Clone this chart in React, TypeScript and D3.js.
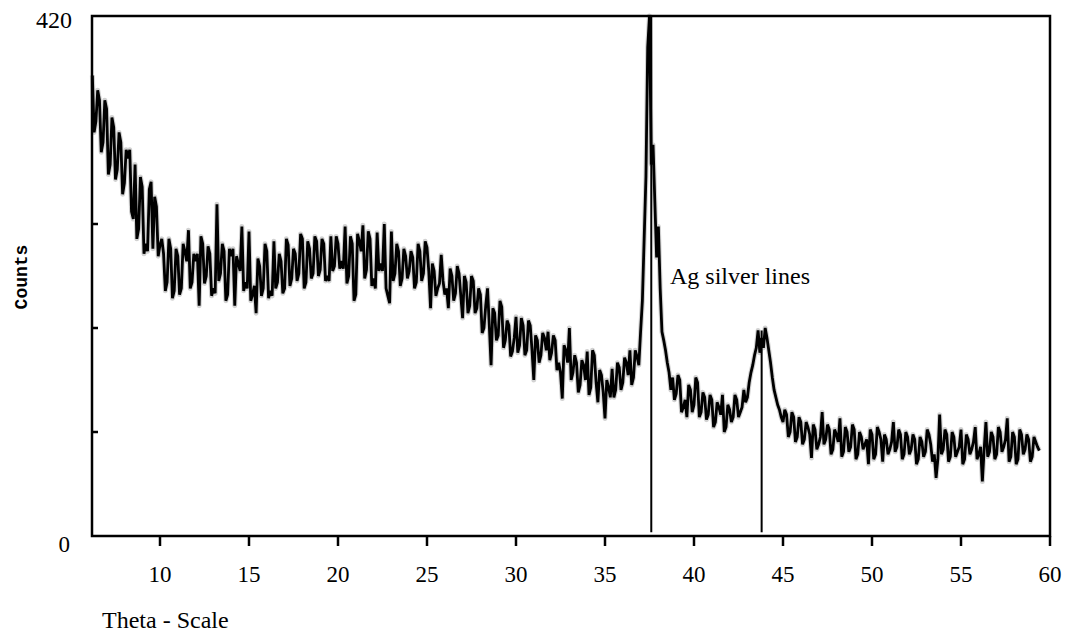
import * as d3 from 'd3';

// XRD scan, [theta, counts]; the *_HALF lists hold the
// in-between readings of the noisy band
const SCAN_LOW: [number, number][] = [
  [6.2, 372], [6.4, 335], [6.6, 352], [6.8, 318], [7.0, 345], [7.2, 300], [7.4, 330], [7.6, 296],
  [7.8, 318], [8.0, 285], [8.2, 305], [8.4, 262], [8.6, 300], [8.8, 248], [9.0, 282], [9.2, 236],
  [9.4, 280], [9.6, 232], [9.8, 266], [10.0, 235], [10.2, 228], [10.4, 205], [10.6, 232], [10.8, 198],
  [11.0, 226], [11.2, 200], [11.4, 230], [11.6, 247], [11.8, 205], [12.0, 222], [12.2, 186], [12.4, 236],
  [12.6, 210], [12.8, 228], [13.0, 200], [13.2, 268], [13.4, 212], [13.6, 230], [13.8, 195], [14.0, 226],
  [14.2, 186], [14.4, 220], [14.6, 250], [14.8, 205], [15.0, 246], [15.2, 195], [15.4, 180], [15.6, 218],
  [15.8, 200], [16.0, 230], [16.2, 198], [16.4, 238], [16.6, 205], [16.8, 222], [17.0, 200], [17.2, 235],
  [17.4, 208], [17.6, 228], [17.8, 212], [18.0, 240], [18.2, 205], [18.4, 232], [18.6, 212], [18.8, 238],
  [19.0, 215], [19.2, 236], [19.4, 210], [19.6, 242], [19.8, 218], [20.0, 236],
];
const SCAN_LOW_HALF: [number, number][] = [
  [6.3, 326], [6.5, 360], [6.7, 310], [6.9, 352], [7.1, 292], [7.3, 338], [7.5, 288], [7.7, 326],
  [7.9, 276], [8.1, 312], [8.3, 312], [8.5, 256], [8.7, 240], [8.9, 290], [9.1, 228], [9.3, 230],
  [9.5, 286], [9.7, 274], [9.9, 226], [10.1, 240], [10.3, 198], [10.5, 240], [10.7, 192], [10.9, 232],
  [11.1, 195], [11.3, 236], [11.5, 222], [11.7, 200], [11.9, 228], [12.1, 228], [12.3, 242], [12.5, 204],
  [12.7, 234], [12.9, 194], [13.1, 196], [13.3, 206], [13.5, 236], [13.7, 190], [13.9, 232], [14.1, 232],
  [14.3, 226], [14.5, 214], [14.7, 198], [14.9, 200], [15.1, 190], [15.3, 202], [15.5, 224], [15.7, 194],
  [15.9, 236], [16.1, 192], [16.3, 194], [16.5, 200], [16.7, 228], [16.9, 196], [17.1, 240], [17.3, 202],
  [17.5, 232], [17.7, 206], [17.9, 244], [18.1, 200], [18.3, 238], [18.5, 208], [18.7, 242], [18.9, 210],
  [19.1, 240], [19.3, 206], [19.5, 206], [19.7, 214], [19.9, 242], [20.1, 216],
];

const SCAN_MID: [number, number][] = [
  [20.2, 222], [20.4, 250], [20.6, 210], [20.8, 236], [21.0, 195], [21.2, 238], [21.4, 251], [21.6, 215],
  [21.8, 240], [22.0, 208], [22.2, 245], [22.4, 220], [22.6, 252], [22.8, 194], [23.0, 246], [23.2, 212],
  [23.4, 230], [23.6, 208], [23.8, 226], [24.0, 214], [24.2, 225], [24.4, 205], [24.6, 230], [24.8, 212],
  [25.0, 233], [25.2, 184], [25.4, 214], [25.6, 200], [25.8, 227], [26.0, 195], [26.2, 184], [26.4, 210],
  [26.6, 196], [26.8, 212], [27.0, 176], [27.2, 205], [27.4, 186], [27.6, 206], [27.8, 184], [28.0, 195],
  [28.2, 168], [28.4, 200], [28.6, 138], [28.8, 180], [29.0, 162], [29.2, 185], [29.4, 158], [29.6, 170],
  [29.8, 149], [30.0, 177], [30.2, 154], [30.4, 170], [30.6, 150], [30.8, 170], [31.0, 126], [31.2, 158],
  [31.4, 146], [31.6, 160], [31.8, 165], [32.0, 148], [32.2, 158], [32.4, 140], [32.6, 111], [32.8, 150],
  [33.0, 168], [33.2, 132], [33.4, 140], [33.6, 122], [33.8, 138], [34.0, 149], [34.2, 120], [34.4, 146],
  [34.6, 108], [34.8, 130], [35.0, 95], [35.2, 120], [35.4, 135], [35.6, 118], [35.8, 136], [36.0, 124],
  [36.2, 140], [36.4, 150], [36.6, 128], [36.8, 145], [37.0, 165],
];
const SCAN_MID_HALF: [number, number][] = [
  [20.3, 216], [20.5, 204], [20.7, 242], [20.9, 190], [21.1, 244], [21.3, 230], [21.5, 208], [21.7, 246],
  [21.9, 202], [22.1, 200], [22.3, 214], [22.5, 214], [22.7, 200], [22.9, 188], [23.1, 206], [23.3, 236],
  [23.5, 202], [23.7, 232], [23.9, 208], [24.1, 230], [24.3, 200], [24.5, 236], [24.7, 206], [24.9, 238],
  [25.1, 214], [25.3, 220], [25.5, 194], [25.7, 204], [25.9, 206], [26.1, 200], [26.3, 216], [26.5, 190],
  [26.7, 218], [26.9, 194], [27.1, 210], [27.3, 180], [27.5, 210], [27.7, 180], [27.9, 200], [28.1, 164],
  [28.3, 186], [28.5, 170], [28.7, 184], [28.9, 158], [29.1, 190], [29.3, 152], [29.5, 174], [29.7, 145],
  [29.9, 160], [30.1, 148], [30.3, 176], [30.5, 146], [30.7, 174], [30.9, 150], [31.1, 162], [31.3, 140],
  [31.5, 164], [31.7, 150], [31.9, 142], [32.1, 162], [32.3, 134], [32.5, 132], [32.7, 154], [32.9, 140],
  [33.1, 126], [33.3, 146], [33.5, 116], [33.7, 142], [33.9, 126], [34.1, 114], [34.3, 150], [34.5, 124],
  [34.7, 134], [34.9, 116], [35.1, 126], [35.3, 112], [35.5, 112], [35.7, 140], [35.9, 118], [36.1, 144],
  [36.3, 130], [36.5, 122], [36.7, 150], [36.9, 138],
];

// Ag (111) reflection, finer steps
const PEAK_AG: [number, number][] = [
  [37.1, 190], [37.2, 240], [37.3, 290], [37.4, 395], [37.5, 420], [37.6, 300], [37.7, 316], [37.8, 270],
  [37.9, 225], [38.0, 250], [38.1, 200], [38.2, 165], [38.3, 158], [38.4, 150], [38.5, 140], [38.6, 132],
  [38.7, 118],
];

const SCAN_HIGH: [number, number][] = [
  [38.8, 128], [39.0, 115], [39.2, 126], [39.4, 104], [39.6, 96], [39.8, 118], [40.0, 106], [40.2, 124],
  [40.4, 100], [40.6, 112], [40.8, 98], [41.0, 110], [41.2, 92], [41.4, 104], [41.6, 114], [41.8, 88],
  [42.0, 102], [42.2, 96], [42.4, 110], [42.6, 100], [42.8, 118], [43.0, 112], [43.2, 132], [43.4, 146],
  [43.6, 166], [43.8, 160], [44.0, 168], [44.2, 150], [44.4, 128], [44.6, 112], [44.8, 102], [45.0, 92],
  [45.2, 98], [45.4, 84], [45.6, 96], [45.8, 80], [46.0, 92], [46.2, 78], [46.4, 88], [46.6, 63],
  [46.8, 86], [47.0, 74], [47.2, 100], [47.4, 78], [47.6, 86], [47.8, 70], [48.0, 82], [48.2, 95],
  [48.4, 68], [48.6, 84], [48.8, 72], [49.0, 86], [49.2, 66], [49.4, 80], [49.6, 74], [49.8, 58],
  [50.0, 82], [50.2, 66], [50.4, 84], [50.6, 60], [50.8, 78], [51.0, 70], [51.2, 92], [51.4, 72],
  [51.6, 82], [51.8, 66], [52.0, 80], [52.2, 70], [52.4, 78], [52.6, 62], [52.8, 76], [53.0, 68],
  [53.2, 82], [53.4, 60], [53.6, 47], [53.8, 98], [54.0, 70], [54.2, 82], [54.4, 64], [54.6, 80],
  [54.8, 68], [55.0, 86], [55.2, 62], [55.4, 78], [55.6, 70], [55.8, 88], [56.0, 66], [56.2, 44],
  [56.4, 92], [56.6, 68], [56.8, 80], [57.0, 66], [57.2, 84], [57.4, 72], [57.6, 95], [57.8, 64],
  [58.0, 80], [58.2, 62], [58.4, 82], [58.6, 70], [58.8, 78], [59.0, 64], [59.2, 76], [59.4, 69],
];
const SCAN_HIGH_HALF: [number, number][] = [
  [38.9, 110], [39.1, 130], [39.3, 100], [39.5, 110], [39.7, 122], [39.9, 100], [40.1, 128], [40.3, 96],
  [40.5, 116], [40.7, 94], [40.9, 114], [41.1, 88], [41.3, 108], [41.5, 98], [41.7, 84], [41.9, 106],
  [42.1, 92], [42.3, 114], [42.5, 96], [42.7, 104], [42.9, 108], [43.1, 124], [43.3, 138], [43.5, 152],
  [43.7, 148], [43.9, 152], [44.1, 160], [44.3, 140], [44.5, 118], [44.7, 106], [44.9, 96], [45.1, 102],
  [45.3, 80], [45.5, 100], [45.7, 76], [45.9, 96], [46.1, 74], [46.3, 92], [46.5, 82], [46.7, 90],
  [46.9, 70], [47.1, 80], [47.3, 74], [47.5, 90], [47.7, 66], [47.9, 86], [48.1, 76], [48.3, 64],
  [48.5, 88], [48.7, 68], [48.9, 90], [49.1, 62], [49.3, 84], [49.5, 70], [49.7, 78], [49.9, 86],
  [50.1, 62], [50.3, 88], [50.5, 78], [50.7, 82], [50.9, 66], [51.1, 76], [51.3, 68], [51.5, 86],
  [51.7, 62], [51.9, 84], [52.1, 66], [52.3, 82], [52.5, 58], [52.7, 80], [52.9, 64], [53.1, 86],
  [53.3, 74], [53.5, 66], [53.7, 62], [53.9, 66], [54.1, 86], [54.3, 60], [54.5, 84], [54.7, 64],
  [54.9, 72], [55.1, 58], [55.3, 82], [55.5, 66], [55.7, 76], [55.9, 62], [56.1, 72], [56.3, 70],
  [56.5, 64], [56.7, 84], [56.9, 62], [57.1, 88], [57.3, 68], [57.5, 78], [57.7, 60], [57.9, 84],
  [58.1, 58], [58.3, 86], [58.5, 66], [58.7, 82], [58.9, 60], [59.1, 80], [59.3, 72],
];

// vertical marker lines for the silver reflections
const AG_LINES = [
  { theta: 37.6, top: 420 },
  { theta: 43.8, top: 166 },
];

const X_TICKS = [10, 15, 20, 25, 30, 35, 40, 45, 50, 55, 60];
const Y_TICKS = [84, 168, 252];

const W = 1067;
const H = 634;
const serif = '"Liberation Serif", "Times New Roman", serif';

export default function App() {
  const left = 92, right = 1050, top = 16, bottom = 536;
  const x = d3.scaleLinear().domain([6.18, 60]).range([left, right]);
  const y = d3.scaleLinear().domain([0, 420]).range([bottom, top]);

  const scan = [
    ...SCAN_LOW, ...SCAN_LOW_HALF, ...SCAN_MID, ...SCAN_MID_HALF,
    ...PEAK_AG, ...SCAN_HIGH, ...SCAN_HIGH_HALF,
  ].sort((a, b) => a[0] - b[0]);

  const line = d3.line<[number, number]>()
    .x(d => x(d[0]))
    .y(d => y(Math.min(d[1], 420)));
  const path = line(scan) ?? '';

  return (
    <svg width={W} height={H} style={{ position: 'absolute', left: 0, top: 0, background: '#fff' }}>
      {/* trace: faint grey spread like the scanned print, then the heavy black line */}
      <path d={path} fill="none" stroke="#d2d2d2" strokeWidth={5} strokeLinejoin="round" />
      <path d={path} fill="none" stroke="#000" strokeWidth={2.8} strokeLinejoin="miter" strokeMiterlimit={2.5} />

      {AG_LINES.map(l => (
        <line key={l.theta} x1={x(l.theta)} x2={x(l.theta)} y1={y(l.top)} y2={y(3)}
          stroke="#000" strokeWidth={2} />
      ))}

      {/* frame */}
      <rect x={left} y={top} width={right - left} height={bottom - top}
        fill="none" stroke="#000" strokeWidth={2.5} />

      {Y_TICKS.map(t => (
        <line key={t} x1={left} x2={left + 6} y1={y(t)} y2={y(t)} stroke="#000" strokeWidth={2.5} />
      ))}
      <text x={72} y={28} textAnchor="end" fontFamily={serif} fontSize={24}>420</text>
      <text x={70} y={552} textAnchor="end" fontFamily={serif} fontSize={23}>0</text>

      {X_TICKS.map(t => (
        <g key={t}>
          <line x1={x(t)} x2={x(t)} y1={bottom} y2={bottom + 10} stroke="#000" strokeWidth={2.5} />
          <text x={x(t)} y={582} textAnchor="middle" fontFamily={serif} fontSize={23}>{t}</text>
        </g>
      ))}

      <text x={102} y={628} fontFamily={serif} fontSize={24}>Theta - Scale</text>
      <text transform="translate(27,277) rotate(-90)" textAnchor="middle"
        fontFamily='"Liberation Mono", "DejaVu Sans Mono", monospace' fontWeight="bold" fontSize={18}>
        Counts
      </text>
      <text x={670} y={284} fontFamily={serif} fontSize={24}>Ag silver lines</text>
    </svg>
  );
}
